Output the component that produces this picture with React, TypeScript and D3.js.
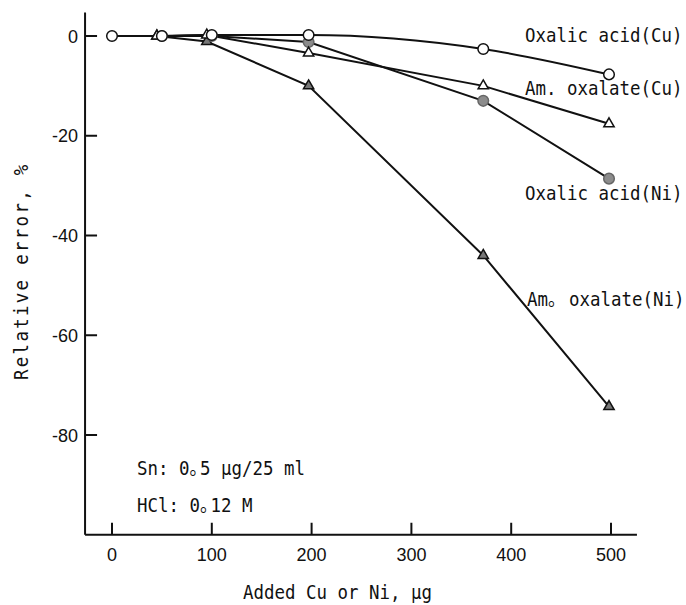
import React from 'react'
import * as d3 from 'd3'

// values (x: added metal, ug ; y: relative error, %)
const oxalicCu: [number, number][] = [[0, 0], [50, 0], [100, 0.2], [197, 0.2], [372, -2.6], [498, -7.7]]
const amOxalateCu: [number, number][] = [[45, 0], [95, 0.2], [197, -3.4], [372, -10], [498, -17.6]]
const oxalicNi: [number, number][] = [[50, 0], [100, 0], [197, -1.2], [372, -13], [498, -28.6]]
const amOxalateNi: [number, number][] = [[45, 0], [95, -1.1], [197, -10], [372, -44], [498, -74.3]]

const xTicks = [0, 100, 200, 300, 400, 500]
const yTicks = [0, -20, -40, -60, -80]
const xExtent = [-27, 526]
const yExtent = [-100, 4.7]

const MONO = '"DejaVu Sans Mono", "Noto Sans CJK JP", monospace'
const SANS = '"Liberation Sans", Arial, sans-serif'

const x = d3.scaleLinear().domain([0, 500]).range([112, 611])
const y = d3.scaleLinear().domain([0, -80]).range([36, 435])

// typewriter-like narrow monospace: every glyph on its own cell
const MonoText = ({ x0, y0, text, step = 10.5, rotate = 0 }: any) => {
  const sx = 0.872
  const chars = Array.from(text as string)
  const xs = chars.map((c, i) => ((i * step) / sx).toFixed(2)).join(' ')
  return (
    <text
      transform={`translate(${x0},${y0}) rotate(${rotate}) scale(${sx},1)`}
      x={xs}
      y={0}
      fontFamily={MONO}
      fontSize={20}
      fill="#111"
    >
      {text}
    </text>
  )
}

const line = d3.line<[number, number]>().x(d => x(d[0])).y(d => y(d[1]))
const smooth = d3
  .line<[number, number]>()
  .x(d => x(d[0]))
  .y(d => y(d[1]))
  .curve(d3.curveMonotoneX)
const tri = d3.symbol().type(d3.symbolTriangle).size(46)

export default function App() {
  const circles = (data: [number, number][], fill: string, stroke: string, key: string) =>
    data.map((d, i) => (
      <circle key={key + i} cx={x(d[0])} cy={y(d[1])} r={5.3} fill={fill} stroke={stroke} strokeWidth={1.5} />
    ))
  const triangles = (data: [number, number][], fill: string, key: string) =>
    data.map((d, i) => (
      <path
        key={key + i}
        d={tri() as string}
        transform={`translate(${x(d[0])},${y(d[1])})`}
        fill={fill}
        stroke="#111"
        strokeWidth={1.5}
      />
    ))

  return (
    <svg width={686} height={605} style={{ position: 'absolute', left: 0, top: 0, background: '#fff' }}>
      {/* axes */}
      <g stroke="#111" strokeWidth={2} fill="none">
        <line x1={x(xExtent[0])} x2={x(xExtent[0])} y1={y(yExtent[1])} y2={y(yExtent[0])} />
        <line x1={x(xExtent[0])} x2={x(xExtent[1])} y1={y(yExtent[0])} y2={y(yExtent[0])} />
        {yTicks.map(t => (
          <line key={'yt' + t} x1={x(xExtent[0])} x2={x(xExtent[0]) + 12} y1={y(t)} y2={y(t)} />
        ))}
        {xTicks.map(t => (
          <line key={'xt' + t} x1={x(t)} x2={x(t)} y1={y(yExtent[0])} y2={y(yExtent[0]) - 12} />
        ))}
      </g>
      <g fontFamily={SANS} fontSize={18} fill="#111">
        {yTicks.map(t => (
          <text key={'yl' + t} x={x(xExtent[0]) - 7} y={y(t) + 6.5} textAnchor="end">
            {t === 0 ? '0' : '-' + Math.abs(t)}
          </text>
        ))}
        {xTicks.map(t => (
          <text key={'xl' + t} x={x(t)} y={y(yExtent[0]) + 26} textAnchor="middle">
            {t}
          </text>
        ))}
      </g>

      {/* series */}
      <g fill="none" stroke="#111" strokeWidth={2}>
        <path d={line(amOxalateNi) as string} />
        <path d={line(oxalicNi) as string} />
        <path d={line(amOxalateCu) as string} />
        <path d={smooth(oxalicCu) as string} />
      </g>
      {triangles(amOxalateNi, '#777', 'tn')}
      {circles(oxalicNi, '#8c8c8c', '#666', 'cn')}
      {triangles(amOxalateCu, '#fff', 'tc')}
      {circles(oxalicCu, '#fff', '#111', 'cc')}

      {/* series labels */}
      <MonoText x0={525} y0={42} text="Oxalic acid(Cu)" />
      <MonoText x0={525} y0={95} text="Am. oxalate(Cu)" />
      <MonoText x0={525} y0={200} text="Oxalic acid(Ni)" />
      <MonoText x0={527} y0={306} text="Am。 oxalate(Ni)" />

      {/* conditions */}
      <MonoText x0={137} y0={475} text="Sn: 0。5 μg/25 ml" />
      <MonoText x0={137} y0={512} text="HCl: 0。12 M" />

      {/* axis titles */}
      <MonoText x0={243} y0={599} text="Added Cu or Ni, μg" />
      <MonoText x0={28} y0={380} text="Relative error, %" step={12.8} rotate={-90} />
    </svg>
  )
}
